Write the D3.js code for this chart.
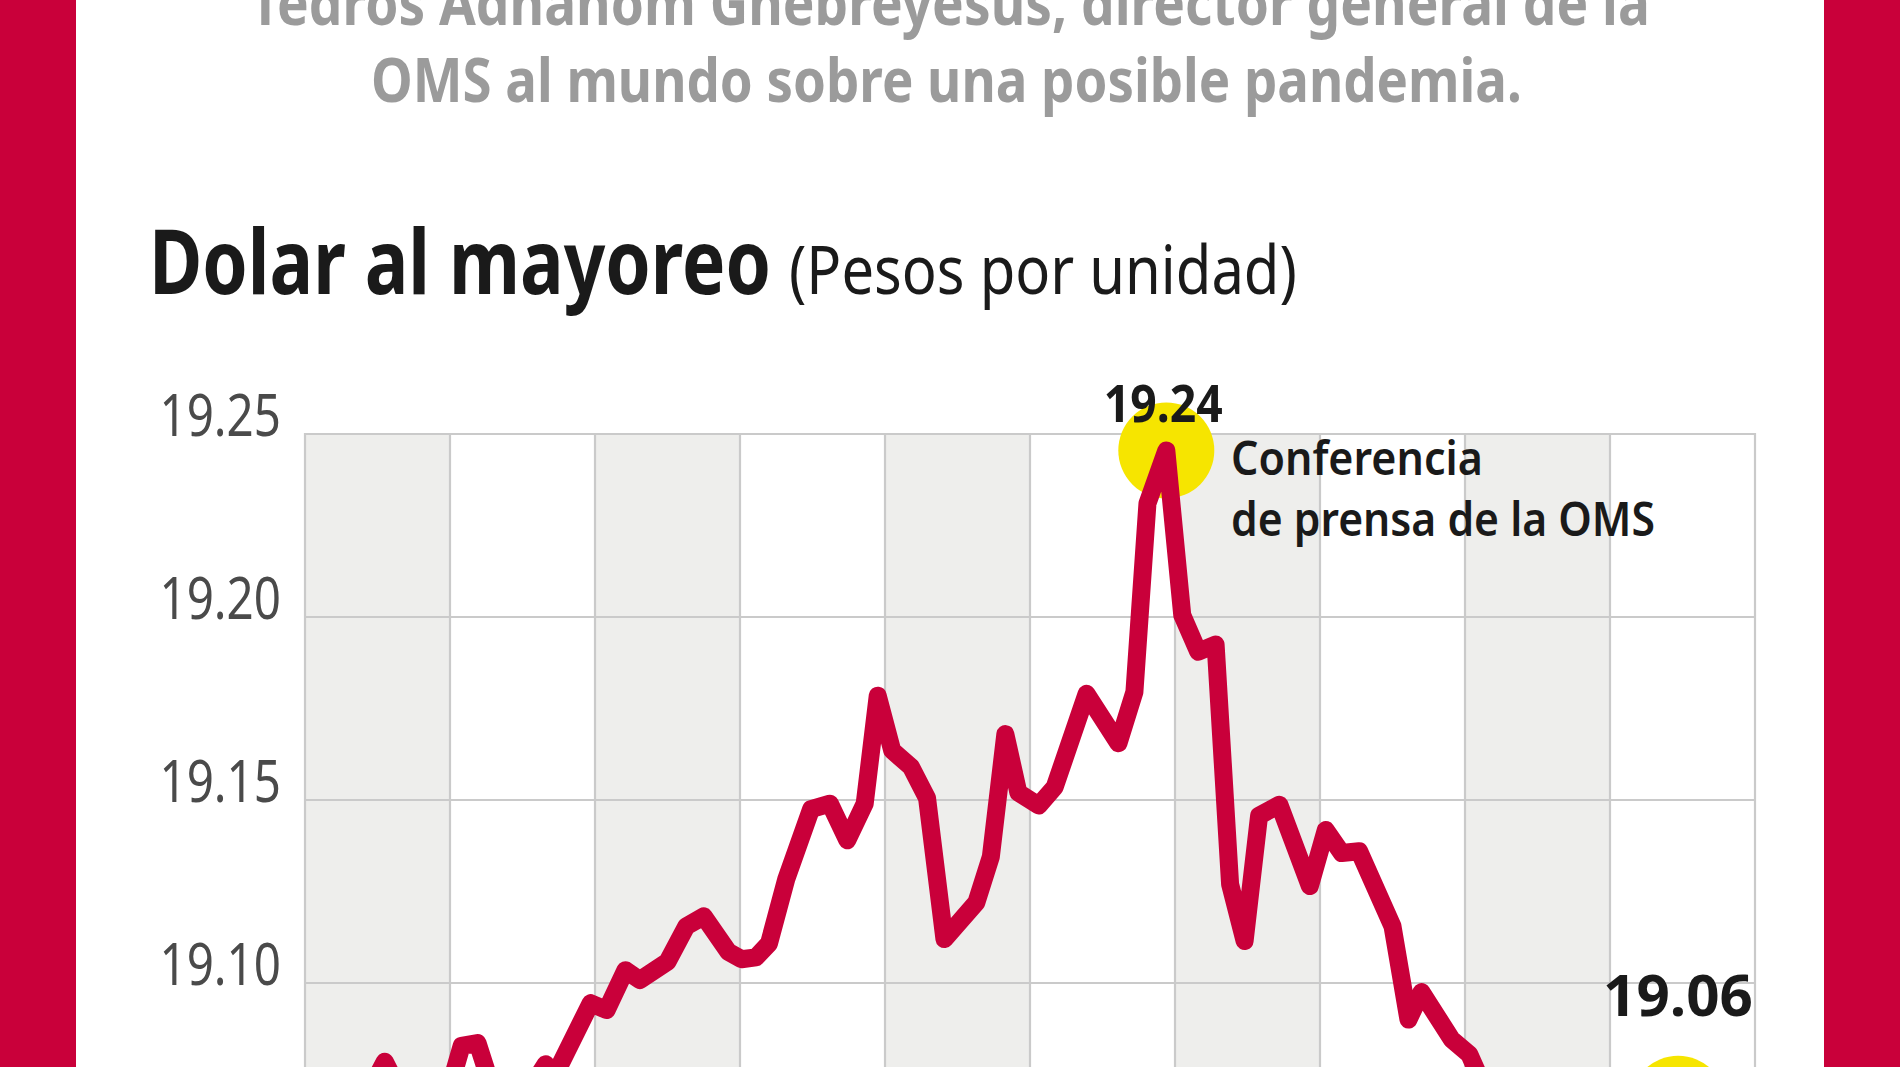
<!DOCTYPE html>
<html><head><meta charset="utf-8">
<script src="https://cdn.jsdelivr.net/npm/d3@7/dist/d3.min.js"></script>
<style>html,body{margin:0;padding:0;background:#fff;overflow:hidden}</style>
</head><body>
<svg id="chart" width="1900" height="1067"></svg>
<script>
// ---- data ----
const introLines = ["Tedros Adhanom Ghebreyesus, director general de la", "OMS al mundo sobre una posible pandemia."];
const titleMain = "Dolar al mayoreo";
const titleUnit = "(Pesos por unidad)";
const yTickValues = [19.10, 19.15, 19.20, 19.25];
const yGridValues = [19.05, 19.10, 19.15, 19.20, 19.25];
const columnCount = 10;          // vertical bands of the grid (10 trading days each)
const day = [0, 1.4, 2.8, 4.1, 5.5, 6.6, 7.6, 8.6, 9.8, 10.8, 11.9, 13.0, 14.0, 15.0, 16.6, 17.2,
  19.7, 20.8, 22.1, 23.1, 25.0, 26.3, 27.5, 29.2, 30.1, 31.1, 32.0, 33.2, 34.9, 36.2, 37.4, 38.6,
  39.5, 40.5, 41.8, 42.9, 44.1, 46.3, 47.3, 48.3, 49.2, 50.6, 51.7, 53.9, 56.1, 57.2, 58.1, 59.4,
  60.5, 61.6, 62.8, 63.8, 64.8, 65.8, 67.2, 69.3, 70.4, 71.5, 72.7, 75.0, 76.1, 77.0, 79.1, 80.3,
  81.7, 83.1, 85.2, 86.9, 88.6, 90.3, 92.1, 94.7];
const rate = [19.060, 19.064, 19.062, 19.068, 19.0785, 19.070, 19.066, 19.064, 19.069, 19.0828, 19.0836, 19.070, 19.066, 19.068, 19.0778, 19.0745,
  19.0945, 19.0926, 19.1035, 19.1008, 19.1058, 19.1155, 19.1182, 19.1085, 19.1065, 19.107, 19.1108, 19.1285, 19.1475, 19.149, 19.139, 19.149,
  19.1785, 19.1635, 19.159, 19.1505, 19.112, 19.122, 19.1345, 19.168, 19.152, 19.1485, 19.1535, 19.179, 19.1655, 19.1795, 19.231, 19.2455,
  19.2005, 19.1905, 19.1925, 19.127, 19.1115, 19.1457, 19.1487, 19.1265, 19.1418, 19.1355, 19.136, 19.1155, 19.090, 19.0975, 19.0845, 19.0805,
  19.068, 19.062, 19.058, 19.055, 19.057, 19.060, 19.063, 19.067];
const peakLabel = "19.24";
const peakNote = ["Conferencia", "de prensa de la OMS"];
const lastLabel = "19.06";

// ---- drawing ----
const RED = "#C9003A", YELLOW = "#F6E500", FONT = "'Noto Sans', 'Open Sans', sans-serif";
const svg = d3.select("#chart");
const x = d3.scaleLinear().domain([0, columnCount * 10]).range([305, 1755]);
const y = d3.scaleLinear().domain([19.05, 19.25]).range([1166, 434]);

// text drawn at natural size then squeezed horizontally to the reference width
function fitText(parent, str, px, py, width, size, weight, fill, anchor) {
  const g = parent.append("g");
  const t = g.append("text").attr("font-family", FONT).attr("font-weight", weight)
    .attr("font-size", size).attr("fill", fill).text(str);
  const w = t.node().getComputedTextLength();
  const k = width / w;
  const left = anchor === "middle" ? px - width / 2 : px;
  g.attr("transform", `translate(${left},${py}) scale(${k},1)`);
  return g;
}

svg.append("rect").attr("width", 1900).attr("height", 1067).attr("fill", "#fff");
svg.append("rect").attr("x", 0).attr("y", 0).attr("width", 76).attr("height", 1067).attr("fill", RED);
svg.append("rect").attr("x", 1824).attr("y", 0).attr("width", 76).attr("height", 1067).attr("fill", RED);

// intro text
fitText(svg, introLines[0], 250, 25, 1400, 61, 700, "#9B9B9B");
fitText(svg, introLines[1], 371, 102, 1151, 61, 700, "#9B9B9B");

// title
fitText(svg, titleMain, 149, 294, 622, 89, 700, "#1a1a1a");
fitText(svg, titleUnit, 789, 294, 508, 67, 400, "#1a1a1a");

// column bands
svg.append("g").selectAll("rect").data(d3.range(columnCount)).join("rect")
  .attr("x", i => x(i * 10)).attr("width", i => x(i * 10 + 10) - x(i * 10))
  .attr("y", y(19.25)).attr("height", y(19.05) - y(19.25))
  .attr("fill", i => i % 2 === 0 ? "#EEEEEC" : "#FFFFFF");

// grid
const grid = svg.append("g").attr("stroke", "#CACACA").attr("stroke-width", 2.2);
grid.selectAll("line.v").data(d3.range(0, columnCount * 10 + 1, 10)).join("line").attr("class", "v")
  .attr("x1", d => x(d)).attr("x2", d => x(d)).attr("y1", y(19.25) - 1).attr("y2", y(19.05));
grid.selectAll("line.h").data(yGridValues).join("line").attr("class", "h")
  .attr("x1", x(0) - 1).attr("x2", x(columnCount * 10) + 1).attr("y1", d => y(d)).attr("y2", d => y(d));

// y axis labels
const yAxis = svg.append("g").attr("transform", `translate(${x(0)},0)`)
  .call(d3.axisLeft(y).tickValues(yTickValues).tickSize(0).tickPadding(24).tickFormat(d3.format(".2f")));
yAxis.select(".domain").remove();
yAxis.selectAll("text").attr("font-family", FONT).attr("font-size", 58).attr("fill", "#4A4A4A")
  .attr("dy", "0.02em")
  .attr("transform", "translate(-24,0) scale(0.82,1) translate(24,0)");

// highlight circles
const pts = day.map((d, i) => ({ d, v: rate[i] }));
const peak = pts.reduce((a, b) => (b.v > a.v ? b : a));
const last = pts[pts.length - 1];
svg.append("g").selectAll("circle").data([peak, last]).join("circle")
  .attr("cx", p => x(p.d)).attr("cy", p => y(p.v)).attr("r", 48).attr("fill", YELLOW);

// line
svg.append("path").datum(pts)
  .attr("d", d3.line().x(p => x(p.d)).y(p => y(p.v)))
  .attr("fill", "none").attr("stroke", RED).attr("stroke-width", 18)
  .attr("stroke-linejoin", "round").attr("stroke-linecap", "round");

// annotations
fitText(svg, peakLabel, x(peak.d) - 3, 422, 119, 52, 700, "#1a1a1a", "middle");
fitText(svg, peakNote[0], 1231, 475, 252, 46, 600, "#1a1a1a");
fitText(svg, peakNote[1], 1231, 536, 424, 46, 600, "#1a1a1a");
fitText(svg, lastLabel, 1603, 1016, 150, 58, 700, "#1a1a1a");
</script>
</body></html>
